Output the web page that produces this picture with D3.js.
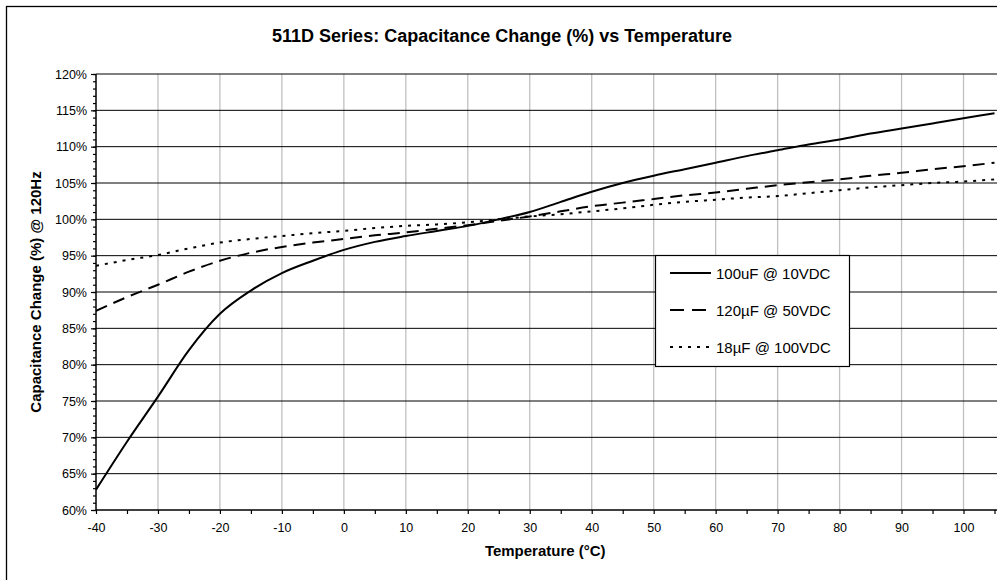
<!DOCTYPE html>
<html><head><meta charset="utf-8">
<script src="https://cdn.jsdelivr.net/npm/d3@7"></script>
<style>body{margin:0;background:#fff}svg{display:block}text{font-family:"Liberation Sans",Arial,sans-serif}</style>
</head><body>
<script>
const temps = [-40,-35,-30,-25,-20,-15,-10,-5,0,5,10,15,20,25,30,35,40,45,50,55,60,65,70,75,80,85,90,95,100,105];
const s100uF = [62.8,69.4,75.6,82.0,87.0,90.2,92.6,94.3,95.8,96.9,97.7,98.4,99.1,100.0,101.0,102.4,103.8,105.0,106.0,106.9,107.8,108.7,109.5,110.3,111.0,111.8,112.5,113.2,113.9,114.6];
const s120uF = [87.4,89.3,91.0,92.8,94.3,95.4,96.2,96.8,97.3,97.8,98.2,98.7,99.2,99.8,100.4,101.1,101.8,102.3,102.8,103.3,103.7,104.2,104.7,105.1,105.5,106.0,106.4,106.9,107.3,107.8];
const s18uF = [93.6,94.4,95.1,96.0,96.8,97.3,97.7,98.1,98.4,98.8,99.1,99.3,99.6,100.0,100.4,100.7,101.1,101.5,102.0,102.4,102.7,103.0,103.2,103.6,104.0,104.4,104.7,105.0,105.2,105.5];
const seriesNames = ["100uF @ 10VDC","120µF @ 50VDC","18µF @ 100VDC"];
const xTicks = [-40,-30,-20,-10,0,10,20,30,40,50,60,70,80,90,100];
const yTicks = [60,65,70,75,80,85,90,95,100,105,110,115,120];

const W=997,H=580;
const svg=d3.select("body").append("svg").attr("width",W).attr("height",H);
svg.append("rect").attr("x",6.5).attr("y",6.5).attr("width",1000).attr("height",1000).attr("fill","#fff").attr("stroke","#000").attr("stroke-width",1.3);

const L=96,R=994.5,T=74,B=510;
const x=d3.scaleLinear().domain([-40,105]).range([L,R]);
const y=d3.scaleLinear().domain([60,120]).range([B,T]);

svg.append("text").attr("x",502).attr("y",42).attr("text-anchor","middle").attr("font-weight","bold").attr("font-size",18).text("511D Series: Capacitance Change (%) vs Temperature");

const g=svg.append("g");
g.selectAll(".vg").data(xTicks.filter(d=>d>-40)).enter().append("line")
 .attr("x1",d=>x(d)).attr("x2",d=>x(d)).attr("y1",T).attr("y2",B).attr("stroke","#c0c0c0").attr("stroke-width",1.3);
g.selectAll(".hg").data(yTicks.filter(d=>d>60)).enter().append("line")
 .attr("x1",L).attr("x2",R+5).attr("y1",d=>y(d)).attr("y2",d=>y(d)).attr("stroke","#000").attr("stroke-width",1);

const yAxis=d3.axisLeft(y).tickValues(yTicks).tickSize(5).tickFormat(d=>d+"%");
const yMinor=d3.axisLeft(y).tickValues(d3.range(60,121,1)).tickSize(3).tickFormat("");
const xAxis=d3.axisBottom(x).tickValues(xTicks).tickSize(4).tickFormat(d=>d);
const xMinor=d3.axisBottom(x).tickValues(d3.range(-35,106,10)).tickSize(4).tickFormat("");
function style(sel){sel.select(".domain").remove();sel.selectAll("line").attr("stroke","#000").attr("stroke-width",1.2);sel.selectAll("text").attr("font-size",12.5).attr("fill","#000").attr("font-family","'Liberation Sans',Arial,sans-serif");}
svg.append("g").attr("transform",`translate(${L},0)`).call(yMinor).call(style);
svg.append("g").attr("transform",`translate(${L},0)`).call(yAxis).call(style).selectAll("text").attr("x",-9);
svg.append("g").attr("transform",`translate(0,${B})`).call(xMinor).call(style);
svg.append("g").attr("transform",`translate(0,${B})`).call(xAxis).call(style).selectAll("text").attr("y",13);
svg.append("line").attr("x1",L).attr("x2",L).attr("y1",T).attr("y2",B).attr("stroke","#000").attr("stroke-width",1.5);
svg.append("line").attr("x1",L).attr("x2",R+5).attr("y1",B).attr("y2",B).attr("stroke","#000").attr("stroke-width",1.5);

svg.append("clipPath").attr("id","clip").append("rect").attr("x",L).attr("y",T-2).attr("width",R-L+2).attr("height",B-T+2);
const line=d3.line().x((d,i)=>x(temps[i])).y(d=>y(d)).curve(d3.curveMonotoneX);
const dashes=[null,"12,7","3,6"];
const series=[s100uF,s120uF,s18uF];
const pl=svg.append("g").attr("clip-path","url(#clip)");
series.forEach((s,i)=>{
  pl.append("path").attr("d",line(s)).attr("fill","none").attr("stroke","#000").attr("stroke-width",2)
   .attr("stroke-dasharray",dashes[i]);
});

const lg=svg.append("g");
lg.append("rect").attr("x",655.5).attr("y",255.5).attr("width",194).attr("height",111).attr("fill","#fff").attr("stroke","#000").attr("stroke-width",1.2);
seriesNames.forEach((n,i)=>{
  const yy=273+i*37;
  lg.append("line").attr("x1",670).attr("x2",711).attr("y1",yy).attr("y2",yy).attr("stroke","#000").attr("stroke-width",2).attr("stroke-dasharray",i==1?"14,8":(i==2?"3,6":null));
  lg.append("text").attr("x",716).attr("y",yy+5.5).attr("font-size",15).text(n);
});

svg.append("text").attr("transform",`translate(41,${(T+B)/2}) rotate(-90)`).attr("text-anchor","middle").attr("font-weight","bold").attr("font-size",15).text("Capacitance Change (%) @ 120Hz");
svg.append("text").attr("x",(L+R)/2).attr("y",556).attr("text-anchor","middle").attr("font-weight","bold").attr("font-size",15).text("Temperature (°C)");
</script>
</body></html>
